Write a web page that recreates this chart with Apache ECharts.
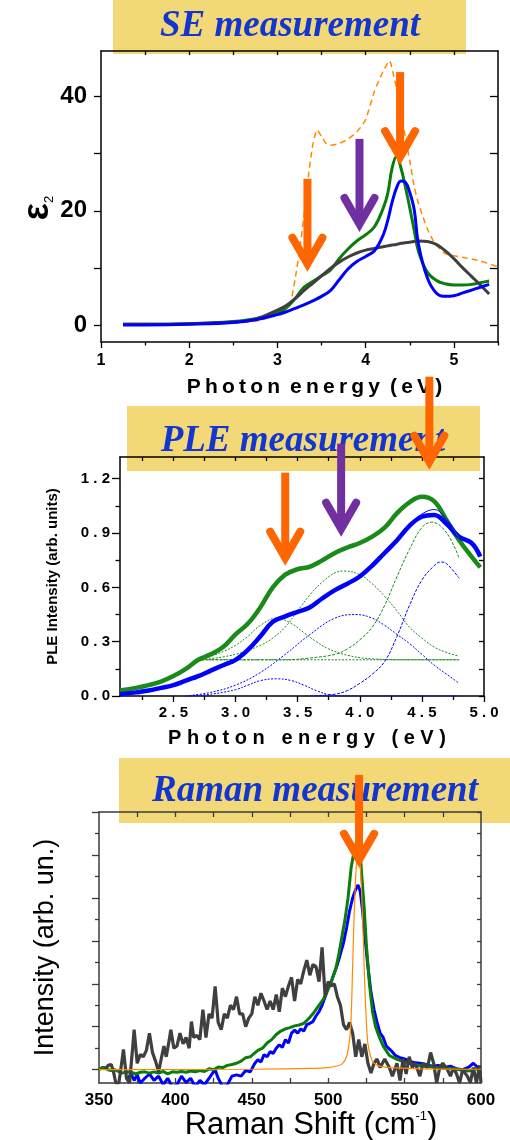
<!DOCTYPE html>
<html>
<head>
<meta charset="utf-8">
<script src="https://cdn.jsdelivr.net/npm/echarts@6/dist/echarts.min.js"></script>
<style>
  html, body { margin: 0; padding: 0; background: #fff; }
  #chart { width: 510px; height: 1140px; }
</style>
</head>
<body>
<div id="chart"></div>
<script>
// ---------- SE measurement (epsilon_2 vs photon energy) ----------
var seEnergy = [1.25, 1.5, 2.0, 2.5, 2.75, 3.0, 3.1, 3.2, 3.3, 3.4, 3.5, 3.6, 3.7, 3.8, 3.9, 4.0, 4.1, 4.2,
                4.25, 4.3, 4.35, 4.4, 4.45, 4.5, 4.55, 4.6, 4.7, 4.8, 4.9, 5.0, 5.1, 5.2, 5.3, 5.4];
var seGreen = [0.1, 0.1, 0.2, 0.6, 1.1, 2.2, 3.0, 4.6, 6.6, 7.6, 8.6, 9.6, 11.6, 13.3, 14.7, 15.8, 17.2, 20.5,
               23.0, 27.5, 29.5, 27.5, 24.2, 20.5, 16.6, 12.8, 9.2, 7.8, 7.2, 7.0, 7.0, 7.1, 7.4, 7.7];
var seBlue = [0.0, 0.0, 0.1, 0.4, 0.9, 1.8, 2.3, 2.9, 3.5, 4.2, 5.0, 6.0, 7.9, 9.8, 11.1, 12.0, 13.0, 15.8,
              18.3, 21.5, 24.0, 25.2, 25.0, 23.2, 20.2, 14.0, 8.2, 5.6, 5.0, 5.1, 5.6, 6.1, 6.6, 7.1];
var seGray = [0.1, 0.1, 0.2, 0.5, 1.0, 2.6, 3.4, 4.6, 6.0, 7.3, 8.6, 9.9, 11.0, 11.9, 12.6, 13.1, 13.4, 13.7,
              13.85, 14.0, 14.1, 14.3, 14.4, 14.5, 14.6, 14.7, 14.6, 14.1, 13.0, 11.6, 10.0, 8.5, 7.0, 5.4];
var seRefEnergy = [1.25, 2.0, 2.5, 2.8, 3.0, 3.1, 3.15, 3.2, 3.25, 3.3, 3.35, 3.4, 3.45, 3.5, 3.55, 3.6, 3.7, 3.8,
                   3.9, 4.0, 4.1, 4.2, 4.27, 4.32, 4.37, 4.42, 4.46, 4.5, 4.55, 4.6, 4.65, 4.7, 4.76, 4.8,
                   4.9, 5.0, 5.15, 5.3, 5.4, 5.5];
var seRef = [0.0, 0.1, 0.3, 0.8, 1.8, 2.8, 4.0, 8.0, 13.0, 19.0, 26.0, 31.5, 34.2, 33.0, 31.8, 31.5, 31.8, 32.6,
             33.8, 36.0, 41.0, 44.5, 46.3, 43.5, 40.0, 35.5, 32.0, 28.8, 24.2, 21.2, 18.9, 16.8, 14.9, 14.0,
             12.5, 12.1, 11.7, 11.2, 10.7, 10.2];
var seTicksX = [1, 2, 3, 4, 5];
var seMinorX = [1.5, 2.5, 3.5, 4.5, 5.5];
var seTopX = [1.5, 2, 2.5, 3, 3.5, 4, 4.5, 5];
var seTicksY = [0, 10, 20, 30, 40];
var seLabelsY = [0, 20, 40];

// ---------- PLE measurement ----------
var pleEnergy = [2.07, 2.2, 2.3, 2.4, 2.5, 2.6, 2.7, 2.8, 2.9, 3.0, 3.1, 3.2, 3.3, 3.4, 3.5, 3.6, 3.7, 3.8,
                 3.9, 4.0, 4.1, 4.2, 4.3, 4.4, 4.5, 4.6, 4.7, 4.8, 4.9, 4.97];
var pleGreen = [0.03, 0.045, 0.06, 0.08, 0.11, 0.15, 0.20, 0.23, 0.27, 0.34, 0.40, 0.49, 0.60, 0.67, 0.70, 0.715,
                0.75, 0.79, 0.82, 0.845, 0.88, 0.93, 1.01, 1.07, 1.10, 1.075, 0.97, 0.86, 0.77, 0.71];
var pleBlue = [0.01, 0.02, 0.03, 0.045, 0.06, 0.085, 0.11, 0.14, 0.17, 0.20, 0.255, 0.33, 0.41, 0.44, 0.465, 0.49,
               0.54, 0.585, 0.62, 0.66, 0.72, 0.79, 0.86, 0.94, 0.99, 1.0, 0.95, 0.88, 0.845, 0.77];
var pleFitEnergy = [2.07, 2.2, 2.3, 2.4, 2.5, 2.6, 2.7, 2.8, 2.9, 3.0, 3.1, 3.2, 3.3, 3.4, 3.5, 3.6, 3.7, 3.8,
                    3.9, 4.0, 4.1, 4.2, 4.3, 4.4, 4.5, 4.6, 4.7, 4.8];
var pleGreenFit = [0.03, 0.045, 0.06, 0.08, 0.11, 0.15, 0.195, 0.235, 0.28, 0.335, 0.40, 0.49, 0.595, 0.665, 0.70,
                   0.72, 0.75, 0.785, 0.82, 0.85, 0.885, 0.94, 1.01, 1.065, 1.095, 1.08, 0.985, 0.87];
var pleBlueFit = [0.01, 0.02, 0.03, 0.045, 0.06, 0.085, 0.11, 0.14, 0.17, 0.205, 0.26, 0.33, 0.405, 0.44, 0.465,
                  0.495, 0.54, 0.585, 0.62, 0.66, 0.72, 0.79, 0.865, 0.945, 1.005, 1.03, 0.975, 0.88];
// deconvolution components (green ones sit on a 0.2 offset)
var pleGreenBaseE = [2.73, 4.8];
var pleGreenBase = [0.2, 0.2];
var pleGreenC1E = [2.73, 2.9, 3.0, 3.1, 3.2, 3.33, 3.45, 3.55, 3.65, 3.75, 3.9, 4.1, 4.4, 4.8];
var pleGreenC1 = [0.20, 0.245, 0.28, 0.33, 0.39, 0.43, 0.40, 0.35, 0.30, 0.26, 0.225, 0.205, 0.20, 0.20];
var pleGreenC2E = [2.73, 3.0, 3.2, 3.3, 3.4, 3.5, 3.6, 3.7, 3.8, 3.88, 4.0, 4.1, 4.2, 4.3, 4.4, 4.5, 4.6, 4.7, 4.8];
var pleGreenC2 = [0.20, 0.23, 0.28, 0.32, 0.38, 0.47, 0.56, 0.63, 0.68, 0.69, 0.67, 0.62, 0.55, 0.47, 0.38, 0.32, 0.27, 0.24, 0.22];
var pleGreenC3E = [2.73, 3.4, 3.6, 3.8, 3.9, 4.0, 4.1, 4.2, 4.3, 4.4, 4.5, 4.58, 4.7, 4.8];
var pleGreenC3 = [0.20, 0.20, 0.21, 0.23, 0.26, 0.31, 0.38, 0.50, 0.66, 0.81, 0.93, 0.96, 0.90, 0.76];
var pleBlueC1E = [2.6, 2.8, 3.0, 3.1, 3.2, 3.33, 3.45, 3.55, 3.65, 3.75, 3.9, 4.8];
var pleBlueC1 = [0.0, 0.01, 0.035, 0.06, 0.085, 0.095, 0.085, 0.06, 0.03, 0.008, 0.0, 0.0];
var pleBlueC2E = [2.6, 2.8, 3.0, 3.2, 3.4, 3.6, 3.8, 3.97, 4.1, 4.2, 4.3, 4.4, 4.5, 4.6, 4.7, 4.8];
var pleBlueC2 = [0.0, 0.02, 0.06, 0.13, 0.23, 0.34, 0.43, 0.45, 0.43, 0.39, 0.34, 0.29, 0.23, 0.17, 0.12, 0.07];
var pleBlueC3E = [3.6, 3.8, 3.9, 4.0, 4.1, 4.2, 4.3, 4.4, 4.5, 4.6, 4.65, 4.7, 4.8];
var pleBlueC3 = [0.0, 0.01, 0.03, 0.07, 0.12, 0.19, 0.33, 0.5, 0.64, 0.72, 0.74, 0.73, 0.65];
var pleTicksX = [2.5, 3.0, 3.5, 4.0, 4.5, 5.0];
var pleMinorX = [2.25, 2.75, 3.25, 3.75, 4.25, 4.75];
var pleTopX = [2.25, 2.5, 2.75, 3.0, 3.25, 3.5, 3.75, 4.0, 4.25, 4.5, 4.75];
var pleTicksY = [0, 0.3, 0.6, 0.9, 1.2];
var pleMinorY = [0.15, 0.45, 0.75, 1.05];
var pleRightY = [0, 0.15, 0.3, 0.45, 0.6, 0.75, 0.9, 1.05, 1.2];

// ---------- Raman measurement: [shift cm-1, intensity] ----------
var ramanGray = [[354,0.0],[356,0.1],[358,0.12],[359.5,-0.05],[361,-0.31],[363,-0.31],[365,0.2],[366,0.47],[368,-0.2],
  [370,-0.31],[372,0.5],[373,0.93],[375,0.15],[377,0.35],[379,0.3],[381,0.45],[383,0.85],[385,0.4],[387,0.2],
  [389,-0.05],[391,0.3],[392.5,0.55],[394,0.3],[396,0.7],[397,0.93],[399,0.5],[401,0.55],[403,0.85],[405,0.6],
  [407,0.75],[409,0.5],[410.5,1.12],[412,0.75],[414,0.8],[416,0.7],[418,1.4],[420,0.75],[422,1.3],[424,1.2],
  [426,1.94],[428,1.1],[430,0.93],[432,1.3],[434,1.2],[436,1.5],[438,1.4],[440,1.7],[442,1.3],[444,1.3],
  [446,1.0],[448,1.2],[450,1.3],[452,1.7],[454,1.5],[456,1.78],[458,1.6],[460,1.4],[462,1.6],[464,1.4],
  [466,1.75],[468,1.35],[470,1.9],[472,1.7],[474,1.95],[476,2.15],[478,1.6],[480,2.1],[482,2.0],[484,2.3],
  [486,2.55],[488,2.2],[490,2.45],[492,2.4],[494,2.05],[496,2.85],[498,1.7],[500,2.05],[502,1.95],[504,2.0],
  [506,1.7],[508,1.5],[510,1.05],[512,0.93],[514,1.1],[516,0.85],[518,0.3],[520,0.7],[522,0.3],[524,0.6],
  [526,0.15],[528,-0.08],[530,0.15],[532,0.25],[534,0.05],[537,0.25],[540,0.05],[542,-0.15],[545,0.15],
  [547,-0.25],[549,0.25],[551,-0.1],[553,0.3],[555,0.05],[557,0.15],[560,-0.15],[562,0.15],[565,0.05],
  [567,0.4],[569,0.15],[571,-0.31],[573,0.05],[575,0.15],[578,0.0],[580,-0.15],[582,0.05],[584,-0.1],
  [586,-0.31],[588,0.0],[591,-0.15],[593,-0.3],[595,0.05],[597,-0.31],[599,0.1],[600,-0.3]];
var ramanGreen = [[350,0.0],[352,0.05],[354,0.05],[356,0.0],[358,-0.02],[360,0.0],[362,-0.03],[365,-0.08],
  [368,-0.05],[371,-0.06],[374,-0.1],[377,-0.06],[380,-0.05],[383,-0.08],[386,-0.05],[389,-0.08],[392,-0.04],
  [395,-0.1],[398,-0.05],[401,-0.06],[404,-0.04],[407,-0.06],[410,-0.03],[413,-0.05],[416,-0.02],[419,-0.04],
  [422,0.02],[425,0.0],[428,0.06],[431,0.05],[434,0.1],[437,0.12],[440,0.15],[443,0.2],[446,0.28],[449,0.3],
  [451,0.36],[454,0.45],[457,0.5],[460,0.62],[463,0.7],[466,0.82],[469,0.9],[472,0.95],[475,0.98],[478,1.02],
  [481,1.04],[484,1.08],[487,1.18],[490,1.3],[493,1.45],[495,1.55],[497,1.65],[499,1.8],[501,1.95],[503,2.15],
  [505,2.35],[507,2.7],[509,3.1],[511,3.5],[513,4.0],[515,4.7],[517,5.1],[518.5,5.3],[520,5.3],[521,5.0],
  [522,4.5],[523.5,3.8],[525,2.9],[527,2.0],[529,1.35],[531,1.0],[533,0.8],[536,0.55],[540,0.33],[545,0.24],
  [550,0.18],[556,0.12],[562,0.08],[568,0.06],[574,0.04],[580,0.03],[586,0.0],[592,-0.03],[596,0.02],[600,0.0]];
var ramanBlue = [[369,-0.2],[371,-0.1],[373,-0.25],[375,-0.12],[377,-0.31],[380,-0.2],[383,-0.1],[386,-0.25],
  [389,-0.15],[392,-0.35],[395,-0.2],[398,-0.4],[401,-0.35],[404,-0.15],[407,-0.3],[410,-0.2],[413,-0.4],
  [416,-0.25],[419,-0.35],[422,-0.2],[424,-0.1],[426,0.0],[428,-0.2],[431,-0.4],[434,-0.35],[437,-0.15],
  [440,-0.12],[443,-0.15],[446,-0.02],[449,-0.05],[452,0.15],[454,0.23],[456,0.18],[458,0.35],[460,0.3],
  [462,0.42],[464,0.38],[466,0.5],[468,0.58],[470,0.52],[472,0.7],[474,0.62],[476,0.85],[478,0.92],[480,0.85],
  [482,0.95],[484,0.9],[486,1.05],[488,1.08],[490,1.12],[492,1.25],[494,1.35],[496,1.5],[498,1.7],[500,1.9],
  [502,2.05],[504,2.25],[506,2.45],[508,2.7],[510,2.95],[512,3.3],[514,3.7],[516,4.0],[518,4.2],[519.5,4.3],
  [521,4.15],[522.5,3.7],[524,3.1],[526,2.4],[528,1.8],[530,1.4],[532,1.1],[534,0.85],[536,0.75],[538,0.55],
  [541,0.45],[544,0.33],[547,0.28],[550,0.25],[553,0.2],[556,0.17],[560,0.15],[564,0.12],[568,0.08],[572,0.1],
  [576,0.05],[580,0.08],[584,0.02],[588,0.0],[592,0.06],[595,0.15],[598,0.05],[600,0.05]];
var ramanFit = [[350,0.0],[450,0.01],[490,0.03],[500,0.05],[505,0.08],[509,0.13],[512,0.3],[514,0.7],[515,1.2],
  [516,2.4],[517,3.6],[518,4.5],[519,5.0],[520,5.1],[521,4.8],[522,4.0],[523,3.0],[524,1.9],[525,1.1],
  [526,0.6],[528,0.28],[530,0.15],[535,0.07],[545,0.04],[560,0.02],[600,0.01]];
var ramanLabelsX = [350, 400, 450, 500, 550, 600];
var ramanTicksX = [375, 400, 425, 450, 475, 500, 525, 550, 575];
var ramanTicksY = [0, 1, 2, 3, 4, 5, 6];
var ramanMinorY = [0.5, 1.5, 2.5, 3.5, 4.5, 5.5];
var ramanRightY = [0, 0.5, 1, 1.5, 2, 2.5, 3, 3.5, 4, 4.5, 5, 5.5, 6];

// arrow annotations: x position and tip height in data units
var seArrows = [{ x: 3.34, y: 9.3, c: 'orange' }, { x: 3.93, y: 16.3, c: 'purple' }, { x: 4.39, y: 28, c: 'orange' }];
var pleArrows = [{ x: 4.56, y: 1.25, c: 'orange' }, { x: 3.40, y: 0.72, c: 'orange' }, { x: 3.85, y: 0.88, c: 'purple' }];
var ramanArrows = [{ x: 520.2, y: 4.7, c: 'orange' }];

var SANS = '"Liberation Sans", Arial, sans-serif';
var SERIF = '"Liberation Serif", "Times New Roman", serif';
var ARROW = { orange: '#ff6600', purple: '#7030a0' };

function zip(xs, ys) {
  return xs.map(function (x, i) { return [x, ys[i]]; });
}

function ax(grid, pos, min, max, o) {
  var col = o.color || '#000';
  return {
    type: 'value', gridIndex: grid, position: pos, min: min, max: max, silent: true,
    axisLine: { show: o.line !== false, onZero: false, lineStyle: { color: col, width: 1.5 } },
    axisTick: { show: !!o.ticks, customValues: o.ticks, inside: !!o.inside, length: o.len || 5,
                lineStyle: { color: col, width: 1.3 } },
    axisLabel: o.labels ? {
      show: true, customValues: o.labels, margin: o.margin, formatter: o.fmt,
      color: '#000', fontFamily: SANS, fontWeight: 'bold', fontSize: o.fontSize
    } : { show: false },
    splitLine: { show: false },
    name: o.name || '', nameLocation: 'middle', nameGap: o.nameGap, nameRotate: o.nameRotate,
    nameTextStyle: o.nameStyle
  };
}

var spacedFmt = function (v) { return v.toFixed(1).split('').join(' '); };

var xAxes = [
  // SE: 0..2
  ax(0, 'bottom', 1, 5.5, { ticks: seTicksX, len: 6, labels: seTicksX, margin: 11, fontSize: 16,
    name: 'P\u2009h\u2009o\u2009t\u2009o\u2009n \u2009e\u2009n\u2009e\u2009r\u2009g\u2009y \u2009(\u2009e\u2009V\u2009)',
    nameGap: 35,
    nameStyle: { fontFamily: SANS, fontWeight: 'bold', fontSize: 21, color: '#000', padding: [0, 0, 0, 30] } }),
  ax(0, 'bottom', 1, 5.5, { ticks: seMinorX, len: 3.5, line: false }),
  ax(0, 'top', 1, 5.5, { ticks: seTopX, len: 4, inside: true }),
  // PLE: 3..5
  ax(1, 'bottom', 2.07, 5.0, { ticks: pleTicksX, len: 6, labels: pleTicksX, margin: 9, fontSize: 15, fmt: spacedFmt,
    name: 'P h o t o n   e n e r g y   ( e V )', nameGap: 32,
    nameStyle: { fontFamily: SANS, fontWeight: 'bold', fontSize: 20, color: '#000', padding: [0, 0, 0, 10] } }),
  ax(1, 'bottom', 2.07, 5.0, { ticks: pleMinorX, len: 4, line: false }),
  ax(1, 'top', 2.07, 5.0, { ticks: pleTopX, len: 4, inside: true }),
  // Raman: 6..7
  ax(2, 'bottom', 350, 600, { ticks: ramanTicksX, len: 5, inside: true, labels: ramanLabelsX, margin: 9, fontSize: 17,
    color: '#3a3a3a',
    name: '{a|Raman Shift (cm}{b|-1}{a|)}', nameGap: 24,
    nameStyle: { padding: [0, 0, 0, 42], rich: {
      a: { fontFamily: SANS, fontSize: 31, color: '#000', lineHeight: 32 },
      b: { fontFamily: SANS, fontSize: 13, color: '#000', verticalAlign: 'top', lineHeight: 22 } } } }),
  ax(2, 'top', 350, 600, { ticks: ramanTicksX, len: 5, inside: true, color: '#3a3a3a' })
];

var yAxes = [
  // SE: 0..1 (the epsilon_2 title is drawn as rotated graphic text below)
  ax(0, 'left', -3, 48, { ticks: seTicksY, len: 7, labels: seLabelsY, margin: 14, fontSize: 24 }),
  ax(0, 'right', -3, 48, { ticks: seTicksY, len: 8, inside: true }),
  // PLE: 2..4
  ax(1, 'left', 0, 1.32, { ticks: pleTicksY, len: 8, labels: pleTicksY, margin: 10, fontSize: 15, fmt: spacedFmt,
    name: 'PLE Intensity (arb. units)', nameGap: 60, nameRotate: 90,
    nameStyle: { fontFamily: SANS, fontWeight: 'bold', fontSize: 15, color: '#000' } }),
  ax(1, 'left', 0, 1.32, { ticks: pleMinorY, len: 4.5, line: false }),
  ax(1, 'right', 0, 1.32, { ticks: pleRightY, len: 5, inside: true }),
  // Raman: 5..7
  ax(2, 'left', -0.31, 6, { ticks: ramanTicksY, len: 7, color: '#3a3a3a',
    name: 'Intensity (arb. un.)', nameGap: 40, nameRotate: 90,
    nameStyle: { fontFamily: SANS, fontSize: 27, color: '#000' } }),
  ax(2, 'left', -0.31, 6, { ticks: ramanMinorY, len: 4, line: false, color: '#3a3a3a' }),
  ax(2, 'right', -0.31, 6, { ticks: ramanRightY, len: 4, inside: true, color: '#3a3a3a' })
];

function line(name, data, xi, yi, color, width, extra) {
  var s = {
    name: name, type: 'line', data: data, xAxisIndex: xi, yAxisIndex: yi,
    symbol: 'none', showSymbol: false, clip: true, silent: true, animation: false,
    lineStyle: { color: color, width: width }
  };
  for (var k in extra) s[k] = extra[k];
  if (extra && extra.dash) s.lineStyle.type = extra.dash;
  return s;
}

var GREEN = '#0a7d0a', BLUE = '#0000ff', GRAY = '#3f3f3f', ORANGE = '#ff8a00';
var PLE_GREEN = '#1a8a1a';

var series = [
  // SE
  line('SE reference', zip(seRefEnergy, seRef), 0, 0, ORANGE, 1.5, { smooth: 0.2, dash: [6, 4] }),
  line('SE green', zip(seEnergy, seGreen), 0, 0, GREEN, 3, { smooth: 0.4 }),
  line('SE gray', zip(seEnergy, seGray), 0, 0, GRAY, 3, { smooth: 0.4 }),
  line('SE blue', zip(seEnergy, seBlue), 0, 0, BLUE, 3, { smooth: 0.4 }),
  // PLE components
  line('G base', zip(pleGreenBaseE, pleGreenBase), 3, 2, PLE_GREEN, 1, { dash: [2, 1.5] }),
  line('G c1', zip(pleGreenC1E, pleGreenC1), 3, 2, PLE_GREEN, 1, { smooth: 0.4, dash: [2, 1.5] }),
  line('G c2', zip(pleGreenC2E, pleGreenC2), 3, 2, PLE_GREEN, 1, { smooth: 0.4, dash: [2, 1.5] }),
  line('G c3', zip(pleGreenC3E, pleGreenC3), 3, 2, PLE_GREEN, 1, { smooth: 0.4, dash: [3, 1.5] }),
  line('B c1', zip(pleBlueC1E, pleBlueC1), 3, 2, BLUE, 1, { smooth: 0.4, dash: [2, 1.5] }),
  line('B c2', zip(pleBlueC2E, pleBlueC2), 3, 2, BLUE, 1, { smooth: 0.4, dash: [2, 1.5] }),
  line('B c3', zip(pleBlueC3E, pleBlueC3), 3, 2, BLUE, 1, { smooth: 0.4, dash: [3, 1.5] }),
  // PLE data and fits
  line('PLE green', zip(pleEnergy, pleGreen), 3, 2, PLE_GREEN, 4.5, { smooth: 0.4 }),
  line('PLE blue', zip(pleEnergy, pleBlue), 3, 2, BLUE, 4.5, { smooth: 0.4 }),
  line('PLE green fit', zip(pleFitEnergy, pleGreenFit), 3, 2, PLE_GREEN, 1, { smooth: 0.4 }),
  line('PLE blue fit', zip(pleFitEnergy, pleBlueFit), 3, 2, BLUE, 1, { smooth: 0.4 }),
  // Raman
  line('Raman blue', ramanBlue, 6, 5, BLUE, 3),
  line('Raman green', ramanGreen, 6, 5, GREEN, 3),
  line('Raman gray', ramanGray, 6, 5, GRAY, 3.2),
  line('Raman fit', ramanFit, 6, 5, ORANGE, 1.2, { smooth: 0.3 })
];

var chart = echarts.init(document.getElementById('chart'), null, { renderer: 'canvas' });
chart.setOption({
  backgroundColor: '#fff',
  animation: false,
  grid: [
    { left: 101, top: 51, right: 12, height: 291, containLabel: false, outerBoundsMode: 'none' },
    { left: 120, top: 457, right: 26, height: 239, containLabel: false, outerBoundsMode: 'none' },
    { left: 99, top: 812, right: 29, height: 271, containLabel: false, outerBoundsMode: 'none' }
  ],
  xAxis: xAxes,
  yAxis: yAxes,
  series: series
});

// banners, rotated epsilon_2 title and arrows
function banner(x, y, w, h, text, tx, ty) {
  return [
    { type: 'rect', shape: { x: x, y: y, width: w, height: h }, style: { fill: '#f3d877' }, z: -1, silent: true },
    { type: 'text', x: tx, y: ty, z: 5, silent: true,
      style: { text: text, fill: '#1236cf', fontFamily: SERIF, fontSize: 37, fontWeight: 'bold', fontStyle: 'italic',
               align: 'center', verticalAlign: 'middle', textAlign: 'center', textVerticalAlign: 'middle' } }
  ];
}

function arrowEls(list, xi, yi) {
  var els = [];
  list.forEach(function (a) {
    var p = chart.convertToPixel({ xAxisIndex: xi, yAxisIndex: yi }, [a.x, a.y]);
    var col = ARROW[a.c];
    els.push({ type: 'line', z: 100, silent: true,
      shape: { x1: p[0], y1: p[1] - 93, x2: p[0], y2: p[1] - 10 },
      style: { stroke: col, lineWidth: 8, lineCap: 'butt' } });
    els.push({ type: 'polyline', z: 100, silent: true,
      shape: { points: [[p[0] - 15, p[1] - 34], [p[0], p[1] - 8], [p[0] + 15, p[1] - 34]] },
      style: { stroke: col, fill: null, lineWidth: 8, lineCap: 'round', lineJoin: 'miter' } });
  });
  return els;
}

var epsTitle = {
  type: 'text', x: 38, y: 208, rotation: Math.PI / 2, z: 5, silent: true,
  style: {
    text: '{e|\u03b5}{s|2}', align: 'center', verticalAlign: 'middle',
    textAlign: 'center', textVerticalAlign: 'middle',
    rich: {
      e: { fontFamily: SANS, fontWeight: 'bold', fontSize: 36, fill: '#000', lineHeight: 36 },
      s: { fontFamily: SANS, fontSize: 13, fill: '#000', verticalAlign: 'bottom', lineHeight: 28 }
    }
  }
};

var graphics = []
  .concat(banner(113, 0, 353, 54, 'SE measurement', 290, 26))
  .concat(banner(127, 406, 353, 65, 'PLE measurement', 303, 441))
  .concat(banner(119, 758, 391, 65, 'Raman measurement', 315, 791))
  .concat([epsTitle])
  .concat(arrowEls(seArrows, 0, 0))
  .concat(arrowEls(pleArrows, 3, 2))
  .concat(arrowEls(ramanArrows, 6, 5));

chart.setOption({ graphic: { elements: graphics } });
</script>
</body>
</html>
